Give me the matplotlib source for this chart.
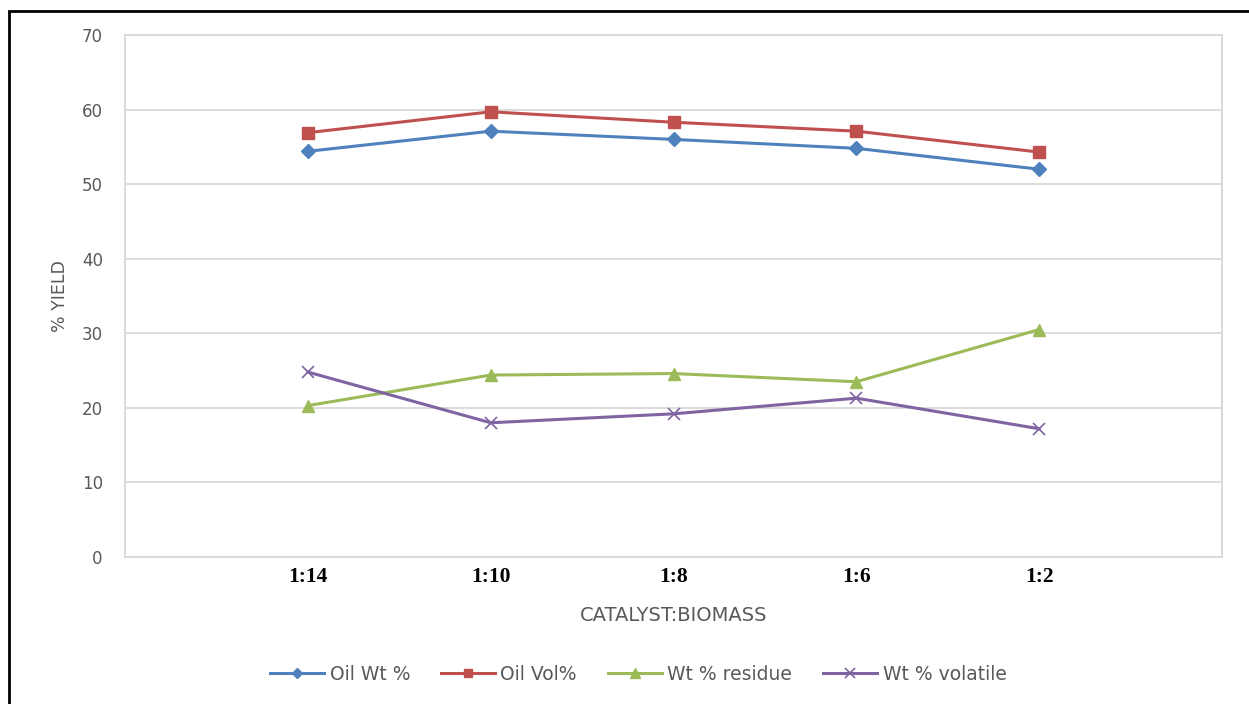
import matplotlib.pyplot as plt
from matplotlib.patches import Rectangle

ratios = ['1:14', '1:10', '1:8', '1:6', '1:2']
oil_wt = [54.4, 57.1, 56.0, 54.8, 52.0]
oil_vol = [56.9, 59.7, 58.3, 57.1, 54.3]
residue = [20.3, 24.4, 24.6, 23.5, 30.5]
volatile = [24.8, 18.0, 19.2, 21.3, 17.2]

fig = plt.figure(figsize=(12.49, 7.04), dpi=100)
ax = fig.add_axes([0.1001, 0.2088, 0.8783, 0.7415])

x = range(1, len(ratios) + 1)
ax.plot(x, oil_wt, color='#4F81BD', lw=2.2, marker='D', ms=7, label='Oil Wt %')
ax.plot(x, oil_vol, color='#C0504D', lw=2.2, marker='s', ms=8, label='Oil Vol%')
ax.plot(x, residue, color='#9BBB59', lw=2.2, marker='^', ms=9, label='Wt % residue')
ax.plot(x, volatile, color='#8064A2', lw=2.2, marker='x', ms=9, mew=1.2, label='Wt % volatile')

ax.set_xlim(0, 6)
ax.set_ylim(0, 70)
ax.set_yticks(range(0, 71, 10))
ax.set_xticks(list(x))
ax.set_xticklabels(ratios, family='Liberation Serif', fontweight='bold', fontsize=15.5)
ax.set_xticks(range(0, 7), minor=True)
ax.grid(True, which='minor', axis='x', color='#D9D9D9', lw=1.3)
ax.grid(True, which='major', axis='y', color='#D9D9D9', lw=1.3)
ax.set_axisbelow(True)
for s in ax.spines.values():
    s.set_color('#D9D9D9')
    s.set_linewidth(1.3)
ax.tick_params(which='both', length=0)
ax.tick_params(axis='y', labelcolor='#595959', labelsize=12, pad=16)
ax.tick_params(axis='x', which='major', labelcolor='black', pad=7)

ax.set_ylabel('% YIELD', color='#595959', fontsize=12.5, labelpad=9)
ax.set_xlabel('CATALYST:BIOMASS', color='#595959', fontsize=14, labelpad=14)

fig.legend(loc='center', bbox_to_anchor=(0.511, 0.0426), ncol=4, frameon=False,
           fontsize=13.5, labelcolor='#595959', handlelength=2.9, columnspacing=1.65,
           handletextpad=0.27, markerscale=0.8)

fig.patches.append(Rectangle((9 / 1249, -0.1), 1.2, 1 - 11 / 704 + 0.1,
                             transform=fig.transFigure, fill=False,
                             edgecolor='black', lw=2))

fig.savefig('out.png', dpi=100)
